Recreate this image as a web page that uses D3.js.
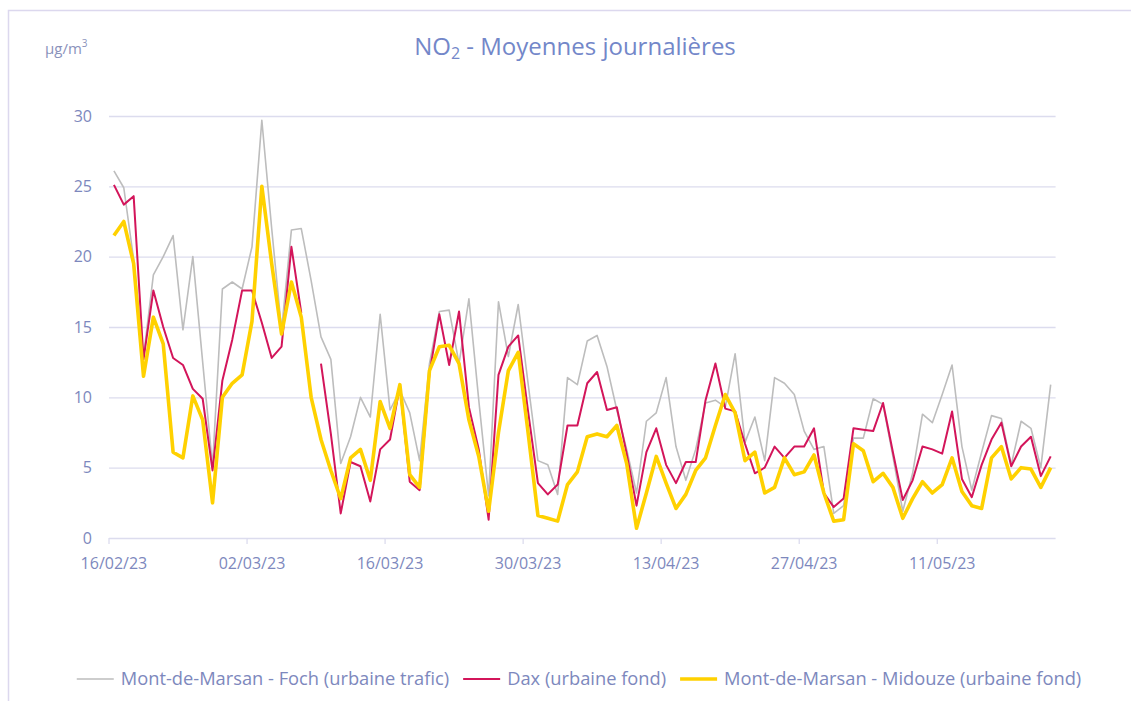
<!DOCTYPE html>
<html>
<head>
<meta charset="utf-8">
<script src="https://cdn.jsdelivr.net/npm/d3@7"></script>
<style>
  body { margin: 0; background: #fff; }
  text { font-family: "Open Sans", "Noto Sans", sans-serif; }
</style>
</head>
<body>
<div id="chart"></div>
<script>
// daily means, 16/02/23 -> 22/05/23
const startDay = "16/02/23";
const tickLabels = ["16/02/23", "02/03/23", "16/03/23", "30/03/23", "13/04/23", "27/04/23", "11/05/23"];
const yTicks = [0, 5, 10, 15, 20, 25, 30];

const foch = [26.1, 24.9, 19.8, 12.9, 18.7, 20.0, 21.5, 14.8, 20.0, 12.5,
  5.1, 17.7, 18.2, 17.7, 20.7, 29.7, 22.0, 14.8, 21.9, 22.0,
  18.3, 14.3, 12.7, 5.3, 7.2, 10.0, 8.6, 15.9, 9.1, 10.5,
  8.9, 5.5, 12.4, 16.1, 16.2, 12.4, 17.0, 9.8, 3.0, 16.8,
  12.9, 16.6, 11.0, 5.5, 5.2, 3.1, 11.4, 10.9, 14.0, 14.4,
  12.2, 9.1, 6.3, 3.2, 8.3, 8.9, 11.4, 6.5, 4.1, 6.3,
  9.6, 9.8, 9.3, 13.1, 6.8, 8.6, 5.5, 11.4, 11.0, 10.2,
  7.6, 6.3, 6.5, 1.75, 2.3, 7.1, 7.1, 9.9, 9.5, 5.8,
  1.9, 4.6, 8.8, 8.2, 10.2, 12.3, 6.5, 3.4, 6.1, 8.7,
  8.5, 5.2, 8.3, 7.8, 5.0, 10.9];

const dax = [25.1, 23.7, 24.3, 12.7, 17.6, 15.0, 12.8, 12.3, 10.6, 9.9,
  4.8, 11.2, 14.1, 17.6, 17.6, 15.3, 12.8, 13.6, 20.7, 16.0,
  null, 12.4, 7.4, 1.75, 5.4, 5.1, 2.6, 6.3, 7.0, 10.8,
  4.0, 3.4, 11.7, 15.9, 12.3, 16.1, 9.3, 6.3, 1.3, 11.6,
  13.6, 14.4, 9.0, 3.9, 3.1, 3.8, 8.0, 8.0, 11.0, 11.8,
  9.1, 9.3, 6.0, 2.3, 6.1, 7.8, 5.2, 3.9, 5.4, 5.4,
  9.8, 12.4, 9.2, 9.0, 6.7, 4.6, 5.0, 6.5, 5.7, 6.5,
  6.5, 7.8, 3.2, 2.2, 2.8, 7.8, 7.7, 7.6, 9.6, 6.1,
  2.7, 4.1, 6.5, 6.3, 6.0, 9.0, 4.2, 2.9, 5.2, 7.0,
  8.2, 5.1, 6.5, 7.2, 4.4, 5.8];

const midouze = [21.5, 22.5, 19.5, 11.5, 15.7, 13.8, 6.1, 5.7, 10.1, 8.4,
  2.5, 10.0, 11.0, 11.6, 15.4, 25.0, 19.5, 14.5, 18.2, 15.7,
  10.0, 7.0, 4.8, 2.8, 5.7, 6.3, 4.1, 9.7, 7.8, 10.9,
  4.5, 3.6, 11.9, 13.6, 13.7, 12.4, 8.4, 5.8, 1.9, 7.5,
  11.9, 13.2, 7.5, 1.6, 1.4, 1.2, 3.8, 4.7, 7.2, 7.4,
  7.2, 8.0, 5.3, 0.7, 3.2, 5.8, 3.9, 2.1, 3.1, 4.8,
  5.7, 8.0, 10.2, 8.9, 5.5, 6.1, 3.2, 3.6, 5.7, 4.5,
  4.7, 5.9, 3.2, 1.2, 1.3, 6.7, 6.2, 4.0, 4.6, 3.6,
  1.4, 2.8, 4.0, 3.2, 3.8, 5.7, 3.3, 2.3, 2.1, 5.7,
  6.5, 4.2, 5.0, 4.9, 3.6, 5.0];

const seriesNames = ["Mont-de-Marsan - Foch (urbaine trafic)", "Dax (urbaine fond)", "Mont-de-Marsan - Midouze (urbaine fond)"];

const svgWidth = 1131;
const svgHeight = 701;
const textColor = "#7d88bd";
const gridColor = "#dcdcee";

const parseDay = d3.utcParse("%d/%m/%y");
const start = parseDay(startDay);
const days = d3.range(foch.length).map(i => d3.utcDay.offset(start, i));

const svg = d3.select("#chart")
  .append("svg")
  .attr("width", svgWidth)
  .attr("height", svgHeight);

// frame
svg.append("path")
  .attr("d", `M8.5,${svgHeight} V10.5 H${svgWidth}`)
  .attr("fill", "none")
  .attr("stroke", "#dcd8ee")
  .attr("stroke-width", 1.5);

const x = d3.scaleUtc()
  .domain([start, d3.utcDay.offset(start, foch.length)])
  .range([109, 1055.6]);

const y = d3.scaleLinear()
  .domain([0, 30])
  .range([538, 116]);

const mid = d => d3.utcHour.offset(d, 12);

// grid
svg.append("g")
  .selectAll("line")
  .data(yTicks)
  .enter()
  .append("line")
  .attr("x1", x.range()[0])
  .attr("x2", x.range()[1])
  .attr("y1", d => y(d) + 0.5)
  .attr("y2", d => y(d) + 0.5)
  .attr("stroke", gridColor)
  .attr("stroke-width", 1.3);

// y labels
svg.append("g")
  .selectAll("text")
  .data(yTicks)
  .enter()
  .append("text")
  .attr("x", 92)
  .attr("y", d => y(d))
  .attr("dy", "0.35em")
  .attr("text-anchor", "end")
  .attr("fill", textColor)
  .style("font-size", "16px")
  .text(d => d);

// x ticks + labels
const tickDays = tickLabels.map(parseDay);
svg.append("g")
  .selectAll("line")
  .data(tickDays)
  .enter()
  .append("line")
  .attr("x1", d => x(d))
  .attr("x2", d => x(d))
  .attr("y1", 538)
  .attr("y2", 544)
  .attr("stroke", gridColor)
  .attr("stroke-width", 1.3);

svg.append("g")
  .selectAll("text")
  .data(tickLabels)
  .enter()
  .append("text")
  .attr("x", d => x(mid(parseDay(d))))
  .attr("y", 569)
  .attr("text-anchor", "middle")
  .attr("fill", textColor)
  .style("font-size", "16px")
  .text(d => d);

// lines
const line = d3.line()
  .defined(d => d[1] !== null)
  .x(d => x(mid(d[0])))
  .y(d => y(d[1]));

const series = [
  { values: foch, color: "#bdbdbd", width: 1.6 },
  { values: dax, color: "#d3155a", width: 2 },
  { values: midouze, color: "#ffd100", width: 3.6 }
];

series.forEach(s => {
  svg.append("path")
    .datum(days.map((d, i) => [d, s.values[i]]))
    .attr("fill", "none")
    .attr("stroke", s.color)
    .attr("stroke-width", s.width)
    .attr("stroke-linejoin", "round")
    .attr("d", line);
});

// title
const title = svg.append("text")
  .attr("x", 575)
  .attr("y", 55)
  .attr("text-anchor", "middle")
  .attr("fill", "#7387c9")
  .style("font-size", "24px");
title.append("tspan").text("NO");
title.append("tspan").attr("baseline-shift", "-25%").style("font-size", "16px").text("2");
title.append("tspan").text(" - Moyennes journalières");

// unit
const unit = svg.append("text")
  .attr("x", 45)
  .attr("y", 54)
  .attr("fill", "#8a92bb")
  .style("font-size", "15px");
unit.append("tspan").text("µg/m");
unit.append("tspan").attr("baseline-shift", "super").style("font-size", "10px").text("3");

// legend
const legend = svg.append("g");
let lx = 0;
seriesNames.forEach((name, i) => {
  const g = legend.append("g").attr("transform", `translate(${lx},0)`);
  g.append("line")
    .attr("x1", 0).attr("x2", 37)
    .attr("y1", 0).attr("y2", 0)
    .attr("stroke", series[i].color)
    .attr("stroke-width", series[i].width);
  const t = g.append("text")
    .attr("x", 44)
    .attr("dy", "0.35em")
    .attr("fill", textColor)
    .style("font-size", "18.3px")
    .text(name);
  lx += 44 + t.node().getComputedTextLength() + 14;
});
legend.attr("transform", `translate(${579 - (lx - 14) / 2},679)`);
</script>
</body>
</html>
